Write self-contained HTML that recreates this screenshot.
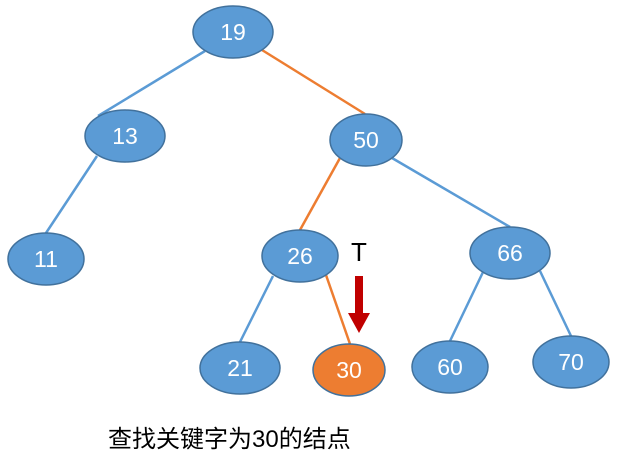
<!DOCTYPE html>
<html><head><meta charset="utf-8"><style>
body{margin:0;background:#fff;}
svg{display:block}
</style></head><body>
<svg width="617" height="466" viewBox="0 0 617 466" xmlns="http://www.w3.org/2000/svg">
<g stroke-width="2.5" fill="none">
<line x1="205" y1="51" x2="98" y2="116" stroke="#5b9bd5"/>
<line x1="262" y1="50" x2="365" y2="114" stroke="#ed7d31"/>
<line x1="97" y1="156" x2="46" y2="233" stroke="#5b9bd5"/>
<line x1="340" y1="158" x2="300" y2="230" stroke="#ed7d31"/>
<line x1="392" y1="158" x2="510" y2="227" stroke="#5b9bd5"/>
<line x1="273" y1="276" x2="240" y2="342" stroke="#5b9bd5"/>
<line x1="326" y1="275" x2="350" y2="344" stroke="#ed7d31"/>
<line x1="484" y1="270" x2="450" y2="341" stroke="#5b9bd5"/>
<line x1="540" y1="271" x2="571" y2="336" stroke="#5b9bd5"/>
</g>
<g stroke="#41719c" stroke-width="1.5">
<ellipse cx="233" cy="32" rx="40" ry="26" fill="#5b9bd5"/>
<ellipse cx="125" cy="136" rx="40" ry="26" fill="#5b9bd5"/>
<ellipse cx="366" cy="140" rx="36" ry="26" fill="#5b9bd5"/>
<ellipse cx="46" cy="259" rx="38" ry="26" fill="#5b9bd5"/>
<ellipse cx="300" cy="256" rx="38" ry="26" fill="#5b9bd5"/>
<ellipse cx="510" cy="253" rx="40" ry="26" fill="#5b9bd5"/>
<ellipse cx="240" cy="368" rx="40" ry="26" fill="#5b9bd5"/>
<ellipse cx="349" cy="370" rx="36" ry="26" fill="#ed7d31"/>
<ellipse cx="450" cy="367" rx="38" ry="26" fill="#5b9bd5"/>
<ellipse cx="571" cy="362" rx="38" ry="26" fill="#5b9bd5"/>
</g>
<g fill="#fff" font-family="Liberation Sans, sans-serif" font-size="23" text-anchor="middle">
<text x="233" y="40">19</text>
<text x="125" y="144">13</text>
<text x="366" y="148">50</text>
<text x="46" y="267">11</text>
<text x="300" y="264">26</text>
<text x="510" y="261">66</text>
<text x="240" y="376">21</text>
<text x="349" y="378">30</text>
<text x="450" y="375">60</text>
<text x="571" y="370">70</text>
</g>
<text x="359" y="261" font-family="Liberation Sans, sans-serif" font-size="26" text-anchor="middle" fill="#000">T</text>
<rect x="355" y="276" width="8" height="38" fill="#c00000"/>
<polygon points="348,313 370,313 359,333" fill="#c00000"/>
<text x="108" y="447" font-family="Liberation Sans, 'Noto Sans CJK SC', sans-serif" font-size="24" fill="#000">查找关键字为30的结点</text>
</svg>
</body></html>
